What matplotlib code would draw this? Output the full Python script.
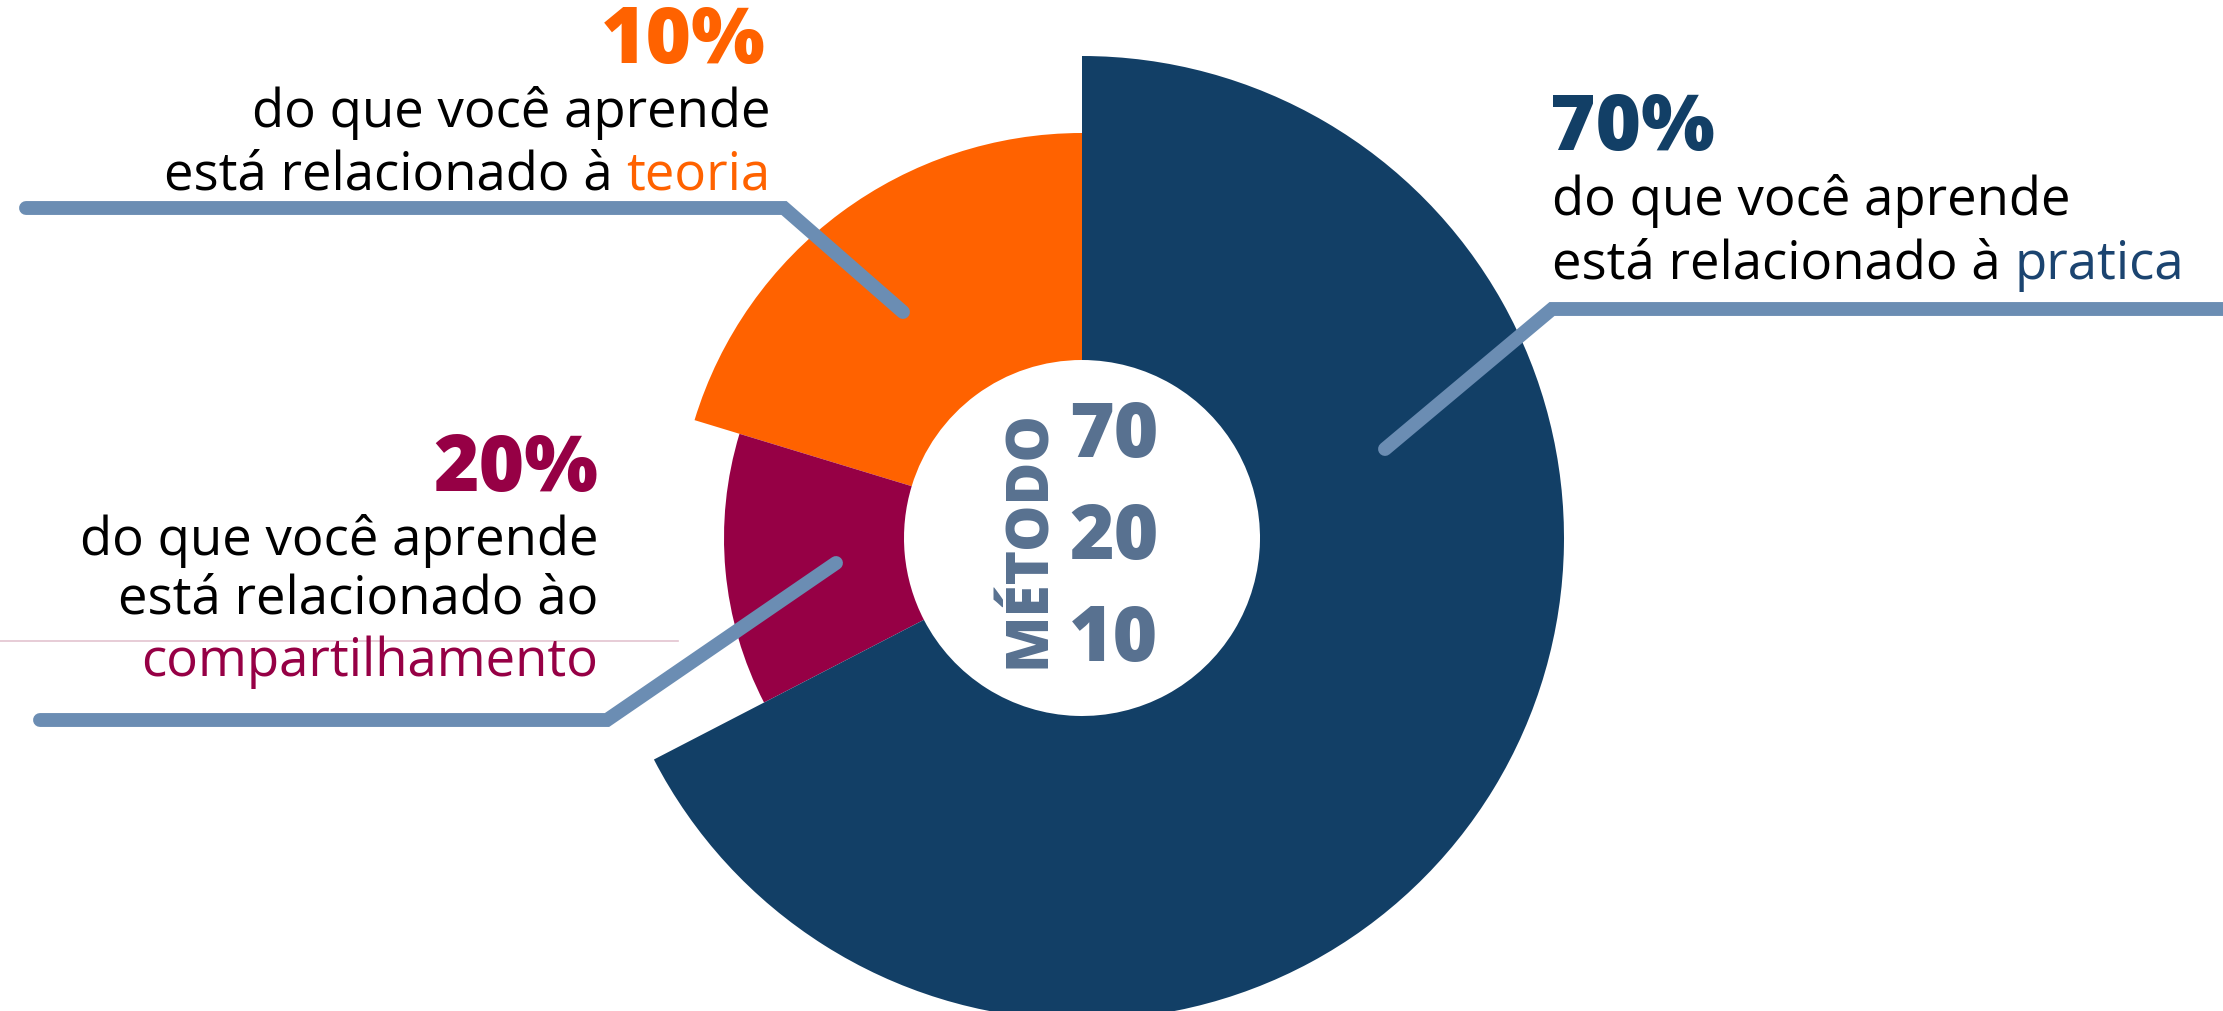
import numpy as np
import matplotlib
matplotlib.use("Agg")
import matplotlib.pyplot as plt
from matplotlib.patches import Wedge

# slices, counter-clockwise starting at 12 o'clock
slice_names = ["teoria", "compartilhamento", "pratica"]
slice_share = [20.3, 12.3, 67.4]          # visual share of the circle
slice_radius = [405, 358, 482]             # outer radius in px
slice_colors = ["#ff6200", "#960045", "#123f66"]
percent_labels = ["10%", "20%", "70%"]
method_numbers = ["70", "20", "10"]

W, H = 2223, 1011
cx, cy = 1082, H - 538
hole = 178

FONT = "Open Sans"
LEADER = "#6b8db3"
CENTER_TXT = "#587190"

fig = plt.figure(figsize=(W / 100, H / 100), dpi=100)
ax = fig.add_axes([0, 0, 1, 1])
ax.set_xlim(0, W)
ax.set_ylim(0, H)
ax.axis("off")

# donut wedges with different outer radii
start = 90.0
for share, r, col in zip(slice_share, slice_radius, slice_colors):
    span = share / sum(slice_share) * 360
    ax.add_patch(Wedge((cx, cy), r, start, start + span, width=r - hole,
                       facecolor=col, edgecolor="none"))
    start += span


def Y(y):
    return H - y


# leader lines (image pixel coordinates)
def leader(pts):
    xs = [p[0] for p in pts]
    ys = [Y(p[1]) for p in pts]
    ax.plot(xs, ys, color=LEADER, lw=10, solid_capstyle="round",
            solid_joinstyle="miter", zorder=3)


leader([(26, 208), (784, 208), (903, 312)])
leader([(1385, 449), (1552, 309), (2240, 309)])
leader([(40, 720), (607, 720), (836, 563)])

# thin divider under the left text
ax.plot([0, 678], [Y(641), Y(641)], color="#e3c3cf", lw=1.2)

fig.canvas.draw()
renderer = fig.canvas.get_renderer()

BODY = 38
BIG = 56


def two_color(x, y, left_txt, word, word_col, align):
    # one text line where the last word has its own colour
    gap = BODY * 100 / 72 * 0.26
    if align == "right":
        t = ax.text(x, Y(y), word, ha="right", va="center", fontsize=BODY,
                    family=FONT, color=word_col)
        w = t.get_window_extent(renderer).width
        ax.text(x - w - gap, Y(y), left_txt, ha="right", va="center",
                fontsize=BODY, family=FONT, color="black")
    else:
        t = ax.text(x, Y(y), left_txt, ha="left", va="center", fontsize=BODY,
                    family=FONT, color="black")
        w = t.get_window_extent(renderer).width
        ax.text(x + w + gap, Y(y), word, ha="left", va="center",
                fontsize=BODY, family=FONT, color=word_col)


# teoria block (top left)
ax.text(766, Y(43), percent_labels[0], ha="right", va="center", fontsize=BIG,
        family=FONT, weight="heavy", color=slice_colors[0])
ax.text(770, Y(113), "do que você aprende", ha="right", va="center",
        fontsize=BODY, family=FONT)
two_color(770, 176, "está relacionado à", slice_names[0], slice_colors[0], "right")

# compartilhamento block (left)
ax.text(598, Y(471), percent_labels[1], ha="right", va="center", fontsize=BIG,
        family=FONT, weight="heavy", color=slice_colors[1])
ax.text(598, Y(541), "do que você aprende", ha="right", va="center",
        fontsize=BODY, family=FONT)
ax.text(598, Y(600), "está relacionado ào", ha="right", va="center",
        fontsize=BODY, family=FONT)
ax.text(598, Y(662), slice_names[1], ha="right", va="center",
        fontsize=BODY, family=FONT, color=slice_colors[1])

# pratica block (right)
ax.text(1550, Y(130), percent_labels[2], ha="left", va="center", fontsize=BIG,
        family=FONT, weight="heavy", color=slice_colors[2])
ax.text(1552, Y(201), "do que você aprende", ha="left", va="center",
        fontsize=BODY, family=FONT)
two_color(1552, 265, "está relacionado à", slice_names[2], "#1b4470", "left")

# centre of the donut
ax.text(1029, Y(539), "MÉTODO", rotation=90, ha="center", va="center",
        fontsize=42, family=FONT, weight="heavy", color=CENTER_TXT)
for num, yy in zip(method_numbers, [437, 539, 641]):
    ax.text(1114, Y(yy), num, ha="center", va="center", fontsize=55,
            family=FONT, weight="heavy", color=CENTER_TXT)

fig.savefig("out.png", dpi=100)
